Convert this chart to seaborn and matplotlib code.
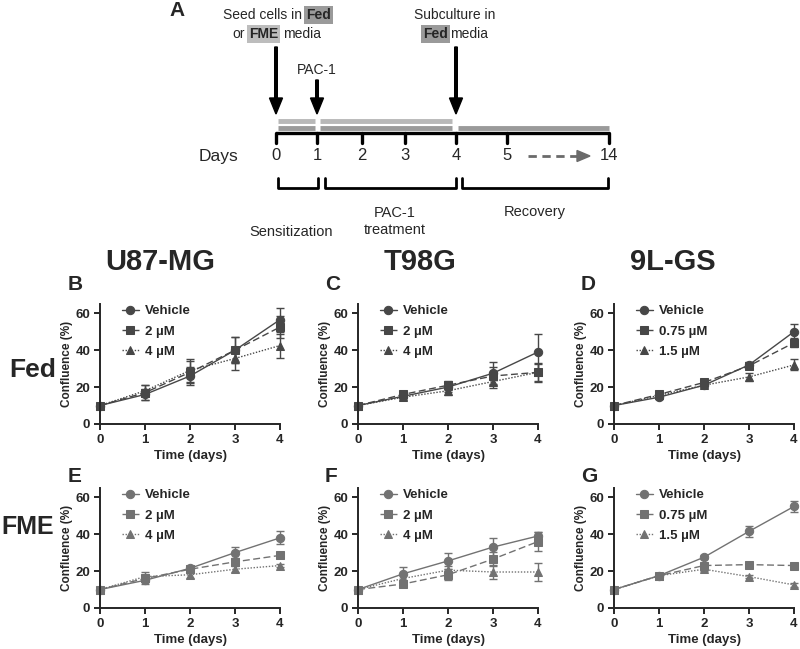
import numpy as np
import pandas as pd
import seaborn as sns
import matplotlib.pyplot as plt

# ---- data ----
days = [0, 1, 2, 3, 4]
cell_lines = ['U87-MG', 'T98G', '9L-GS']
row_media = ['Fed', 'FME']
dose_labels = {
    'U87-MG': ['Vehicle', '2 µM', '4 µM'],
    'T98G': ['Vehicle', '2 µM', '4 µM'],
    '9L-GS': ['Vehicle', '0.75 µM', '1.5 µM'],
}

# confluence (%), rows = vehicle, mid dose, high dose
u87_fed_mean = [[10, 16, 26, 40, 56.5], [10, 17, 28, 40, 52.5], [10, 18, 29, 35.5, 42.5]]
u87_fed_sd = [[0, 3, 5, 7, 6.5], [0, 4, 6, 7, 6], [0, 3, 6, 6, 6.5]]
t98_fed_mean = [[10, 15, 20, 27.5, 39], [10, 16, 21, 26, 28], [10, 14.5, 18, 23, 28]]
t98_fed_sd = [[0, 1.5, 2.5, 6, 9.5], [0, 1.5, 2.5, 5, 5], [0, 1.5, 2.5, 3.5, 4.5]]
gs_fed_mean = [[10, 14.5, 21, 32, 50], [10, 16, 22.5, 31.5, 44], [10, 15.5, 21, 25.5, 32]]
gs_fed_sd = [[0, 1, 1.5, 1.5, 4], [0, 1, 1.5, 1.5, 2.5], [0, 1, 1, 2, 3]]

u87_fme_mean = [[10, 15, 21.5, 30, 38], [10, 16, 21, 25, 28.5], [10, 17, 18, 21, 23]]
u87_fme_sd = [[0, 2, 1.5, 3, 3.5], [0, 2, 2, 1.5, 1.5], [0, 2.5, 1.5, 1.5, 1]]
t98_fme_mean = [[10, 18.5, 25.5, 33, 39], [10, 13, 18, 26.5, 36], [10, 16, 20.5, 19.5, 19.5]]
t98_fme_sd = [[0, 3.5, 4.5, 5, 2], [0, 1.5, 3, 4, 5], [0, 2, 2, 4, 5]]
gs_fme_mean = [[10, 17.5, 27.5, 41.5, 55], [10, 17.5, 23, 23.5, 23], [10, 17.5, 21, 17, 12.5]]
gs_fme_sd = [[0, 1, 1, 3, 3], [0, 1, 1, 1, 1], [0, 1, 1, 1, 1]]

panels = [
    ('B', 'U87-MG', u87_fed_mean, u87_fed_sd, 0, 0),
    ('C', 'T98G', t98_fed_mean, t98_fed_sd, 0, 1),
    ('D', '9L-GS', gs_fed_mean, gs_fed_sd, 0, 2),
    ('E', 'U87-MG', u87_fme_mean, u87_fme_sd, 1, 0),
    ('F', 'T98G', t98_fme_mean, t98_fme_sd, 1, 1),
    ('G', '9L-GS', gs_fme_mean, gs_fme_sd, 1, 2),
]

timeline_days = ['0', '1', '2', '3', '4', '5', '14']

sns.set_style('ticks')
plt.rcParams['font.family'] = ['Liberation Sans', 'DejaVu Sans']

W, H = 800, 649
fig = plt.figure(figsize=(W / 100, H / 100), dpi=100)

# overlay in pixel coordinates for schematic and labels
ov = fig.add_axes([0, 0, 1, 1])
ov.set_xlim(0, W)
ov.set_ylim(H, 0)
ov.axis('off')

# ---- panel A: timeline schematic ----
tx = [276, 317, 362, 405, 456, 507, 609]
line_y = 133
ov.plot([tx[0], tx[-1]], [line_y, line_y], color='black', lw=2.4, solid_capstyle='butt')
for x, lab in zip(tx, timeline_days):
    ov.plot([x, x], [line_y, line_y + 10], color='black', lw=2.4)
    ov.text(x, 156, lab, ha='center', va='center', fontsize=12)
ov.text(218, 156, 'Days', ha='center', va='center', fontsize=12.5)
# gray media bars
ov.plot([278, 315], [121, 121], color='#b8b8b8', lw=3.5, solid_capstyle='butt')
ov.plot([320, 452], [121, 121], color='#b8b8b8', lw=3.5, solid_capstyle='butt')
ov.plot([278, 315], [128, 128], color='#9a9a9a', lw=3.5, solid_capstyle='butt')
ov.plot([320, 452], [128, 128], color='#9a9a9a', lw=3.5, solid_capstyle='butt')
ov.plot([458, 609], [128, 128], color='#9a9a9a', lw=3.5, solid_capstyle='butt')
# dashed arrow 5 -> 14
ov.plot([528, 578], [156, 156], color='#6a6a6a', lw=2, ls=(0, (3, 2)))
ov.arrow(577, 156, 13, 0, width=0.1, head_width=11, head_length=13,
         length_includes_head=True, color='#6a6a6a')
# arrows
for x, y0 in [(276, 47), (317, 80), (456, 47)]:
    ov.arrow(x, y0, 0, 114 - y0, width=2.6, head_width=13, head_length=16,
             length_includes_head=True, color='black')
# labels over arrows
fs = 10
hi_dark = dict(facecolor='#9a9a9a', edgecolor='none', pad=1.2)
hi_light = dict(facecolor='#bdbdbd', edgecolor='none', pad=1.2)
ov.text(302, 15, 'Seed cells in', ha='right', va='center', fontsize=fs)
ov.text(306, 15, 'Fed', ha='left', va='center', fontsize=fs, fontweight='bold', bbox=hi_dark)
ov.text(245, 34, 'or', ha='right', va='center', fontsize=fs)
ov.text(249, 34, 'FME', ha='left', va='center', fontsize=fs, fontweight='bold', bbox=hi_light)
ov.text(283, 34, 'media', ha='left', va='center', fontsize=fs)
ov.text(455, 15, 'Subculture in', ha='center', va='center', fontsize=fs)
ov.text(423, 34, 'Fed', ha='left', va='center', fontsize=fs, fontweight='bold', bbox=hi_dark)
ov.text(450, 34, 'media', ha='left', va='center', fontsize=fs)
ov.text(317, 70, 'PAC-1', ha='center', va='center', fontsize=fs)
ov.text(177, 10, 'A', ha='center', va='center', fontsize=15, fontweight='bold')
# brackets
for x0, x1 in [(278, 318), (325, 456), (462, 608)]:
    ov.plot([x0, x0, x1, x1], [178, 188, 188, 178], color='black', lw=2)
fs2 = 10.5
ov.text(291, 232, 'Sensitization', ha='center', va='center', fontsize=fs2)
ov.text(395, 213, 'PAC-1', ha='center', va='center', fontsize=fs2)
ov.text(395, 230, 'treatment', ha='center', va='center', fontsize=fs2)
ov.text(535, 212, 'Recovery', ha='center', va='center', fontsize=fs2)

# ---- titles and row labels ----
for x, name in zip([160, 420, 673], cell_lines):
    ov.text(x, 262, name, ha='center', va='center', fontsize=21, fontweight='bold')
ov.text(33, 370, 'Fed', ha='center', va='center', fontsize=19, fontweight='bold')
ov.text(28, 527, 'FME', ha='center', va='center', fontsize=18, fontweight='bold')

# ---- growth panels ----
ax_left = [100, 358, 614]
ax_bottom = [424, 608]
ax_w, ax_h = 180, 120
letter_pos = {'B': (75, 285), 'C': (333, 285), 'D': (588, 285),
              'E': (75, 476), 'F': (331, 476), 'G': (589, 476)}
row_colors = ['#474747', '#727272']
markers = ['o', 's', '^']
lstyles = ['-', (0, (5, 2.5)), (0, (1, 1.2))]
msizes = [6, 6, 5.5]

for letter, line, means, sds, r, c in panels:
    ax = fig.add_axes([ax_left[c] / W, 1 - ax_bottom[r] / H, ax_w / W, ax_h / H])
    col = row_colors[r]
    for i in range(3):
        sns.lineplot(x=days, y=means[i], ax=ax, color=col, marker=markers[i],
                     markersize=msizes[i], markeredgecolor=col, linestyle=lstyles[i],
                     linewidth=1, label=dose_labels[line][i], clip_on=False)
        ax.errorbar(days, means[i], yerr=sds[i], fmt='none', ecolor=col,
                    elinewidth=1, capsize=3, capthick=1, clip_on=False)
    ax.set_xlim(0, 4)
    ax.set_ylim(0, 65)
    ax.set_xticks(days)
    ax.set_yticks([0, 20, 40, 60])
    sns.despine(ax=ax)
    for s in ['left', 'bottom']:
        ax.spines[s].set_linewidth(1.4)
    ax.tick_params(width=1.4, length=4, labelsize=9.5, pad=3)
    for t in ax.get_xticklabels() + ax.get_yticklabels():
        t.set_fontweight('bold')
    ax.set_xlabel('Time (days)', fontsize=9.5, fontweight='bold', labelpad=3)
    ax.set_ylabel('Confluence (%)', fontsize=8.5, fontweight='bold', labelpad=2)
    ax.legend(loc='upper left', bbox_to_anchor=(0.12, 0.99), frameon=False,
              borderpad=0, borderaxespad=0, handlelength=1.3, handletextpad=0.5,
              labelspacing=0.6, prop={'weight': 'bold', 'size': 9.5})
    lx, ly = letter_pos[letter]
    ov.text(lx, ly, letter, ha='center', va='center', fontsize=15, fontweight='bold')

fig.savefig('out.png', dpi=100)
